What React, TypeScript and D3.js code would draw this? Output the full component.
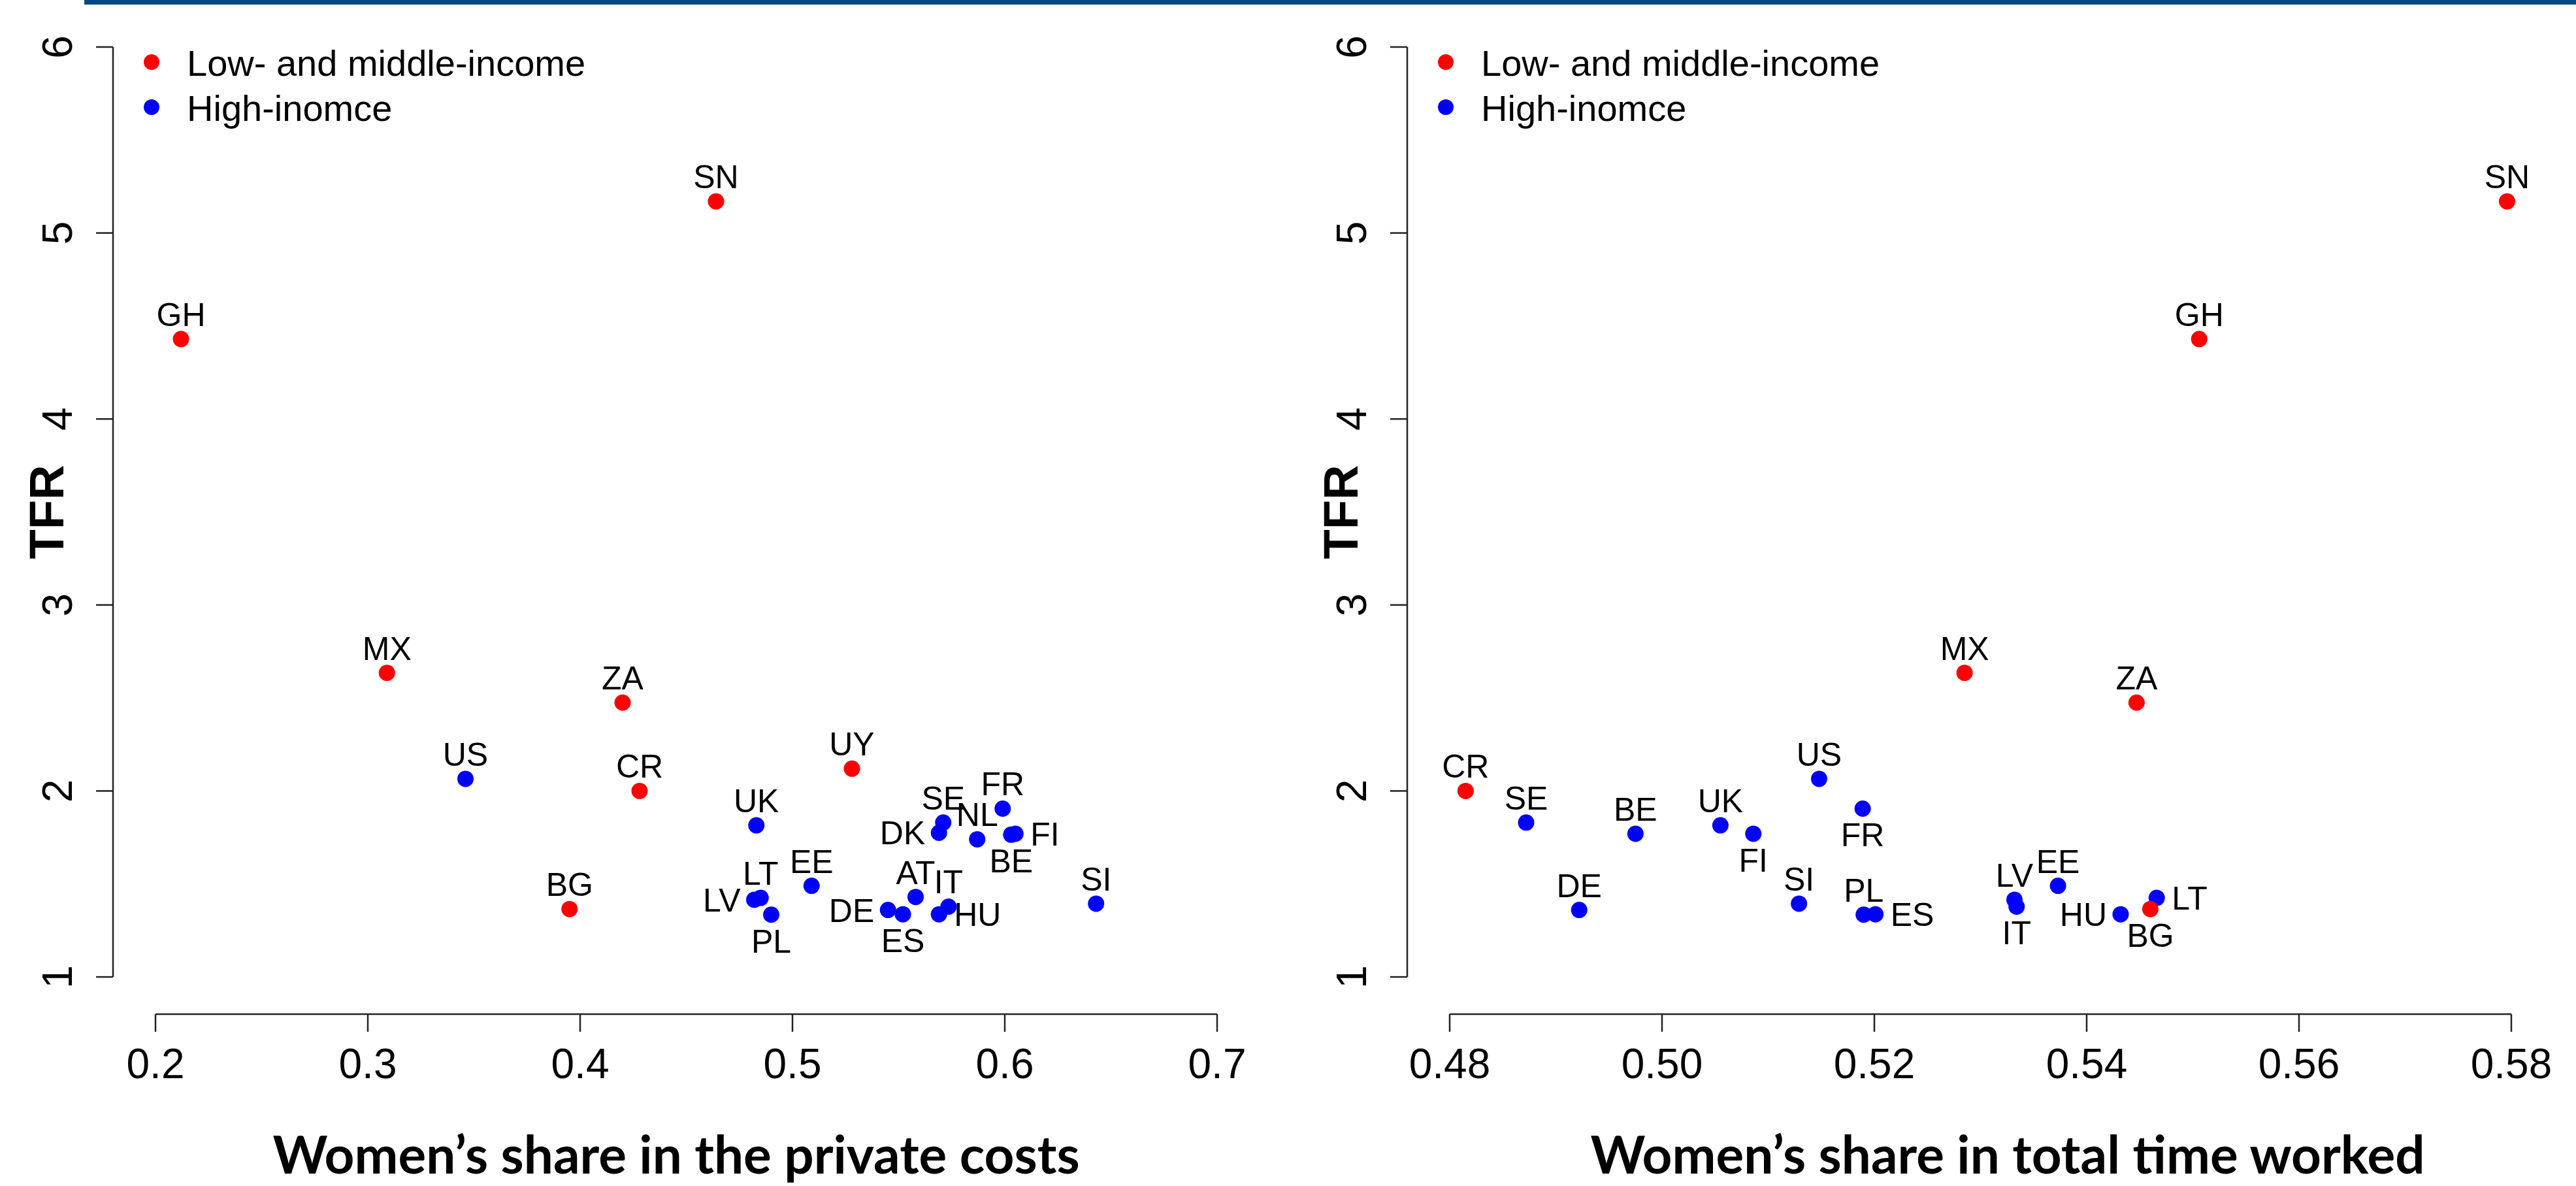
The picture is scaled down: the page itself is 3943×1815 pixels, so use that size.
import React from 'react';
import * as d3 from 'd3';

const W = 3943;
const H = 1815;

// left panel: women's share in the private costs of children
const costCountries = ['GH', 'SN', 'MX', 'ZA', 'US', 'CR', 'BG', 'UY', 'UK', 'SE', 'FR', 'NL', 'DK', 'FI', 'BE', 'EE', 'LT', 'LV', 'PL', 'AT', 'IT', 'DE', 'ES', 'HU', 'SI'];
const costShare = [0.212, 0.464, 0.309, 0.42, 0.346, 0.428, 0.395, 0.528, 0.483, 0.571, 0.599, 0.587, 0.569, 0.605, 0.603, 0.509, 0.485, 0.482, 0.49, 0.558, 0.5735, 0.545, 0.552, 0.569, 0.643];
const costTfr = [4.43, 5.17, 2.635, 2.475, 2.065, 2.0, 1.365, 2.12, 1.815, 1.83, 1.905, 1.74, 1.775, 1.77, 1.765, 1.49, 1.425, 1.415, 1.335, 1.43, 1.378, 1.36, 1.337, 1.337, 1.394];
const costGroup = ['low', 'low', 'low', 'low', 'high', 'low', 'low', 'low', 'high', 'high', 'high', 'high', 'high', 'high', 'high', 'high', 'high', 'high', 'high', 'high', 'high', 'high', 'high', 'high', 'high'];

// right panel: women's share in total time worked
const timeCountries = ['CR', 'SE', 'BE', 'DE', 'UK', 'FI', 'US', 'FR', 'SI', 'PL', 'ES', 'MX', 'ZA', 'GH', 'SN', 'LV', 'IT', 'EE', 'HU', 'BG', 'LT'];
const timeShare = [0.4815, 0.4872, 0.4975, 0.4922, 0.5055, 0.5086, 0.5148, 0.5189, 0.5129, 0.519, 0.5201, 0.5285, 0.5447, 0.5506, 0.5796, 0.5332, 0.5334, 0.5373, 0.5432, 0.546, 0.5466];
const timeTfr = [2.0, 1.83, 1.77, 1.36, 1.815, 1.77, 2.065, 1.905, 1.394, 1.335, 1.337, 2.635, 2.475, 4.43, 5.17, 1.415, 1.378, 1.49, 1.337, 1.365, 1.425];
const timeGroup = ['low', 'high', 'high', 'high', 'high', 'high', 'high', 'high', 'high', 'high', 'high', 'low', 'low', 'low', 'low', 'high', 'high', 'high', 'high', 'low', 'high'];

const yTicks = [1, 2, 3, 4, 5, 6];
const costTicks = [0.2, 0.3, 0.4, 0.5, 0.6, 0.7];
const timeTicks = [0.48, 0.5, 0.52, 0.54, 0.56, 0.58];
const legendLabels = ['Low- and middle-income', 'High-inomce'];
const legendGroups = ['low', 'high'];

// where each country code sits relative to its dot (default: above)
const costLabelSide: Record<string, string> = { DK: 'left', LV: 'left', DE: 'left', FI: 'right', HU: 'right', BE: 'below', PL: 'below', ES: 'below' };
const timeLabelSide: Record<string, string> = { FI: 'below', FR: 'below', IT: 'below', BG: 'below', ES: 'right', LT: 'right', HU: 'left' };

const colors: Record<string, string> = { low: '#ff0000', high: '#0000ff' };
const sans = '"Liberation Sans", Arial, sans-serif';

const yScale = d3.scaleLinear().domain([0.8, 6.2]).range([1552, 15]);

type PanelProps = {
  countries: string[];
  share: number[];
  tfr: number[];
  group: string[];
  ticks: number[];
  fmt: (v: number) => string;
  left: number;
  right: number;
  title: string;
  titleX: number;
  sides: Record<string, string>;
};

const Panel = ({ countries, share, tfr, group, ticks, fmt, left, right, title, titleX, sides }: PanelProps) => {
  const lo = ticks[0];
  const hi = ticks[ticks.length - 1];
  const pad = (hi - lo) * 0.04;
  const x = d3.scaleLinear().domain([lo - pad, hi + pad]).range([left, right]);
  const axisY = yScale(0.8);
  const pts = countries.map((c, i) => ({ c, x: x(share[i]), y: yScale(tfr[i]), g: group[i] }));
  // blue first so the red ones sit on top
  const ordered = [...pts.filter(p => p.g === 'high'), ...pts.filter(p => p.g === 'low')];

  const label = (p: { c: string; x: number; y: number }) => {
    const side = sides[p.c] || 'above';
    if (side === 'left') return <text key={'l' + p.c} x={p.x - 21} y={p.y + 18} textAnchor="end">{p.c}</text>;
    if (side === 'right') return <text key={'l' + p.c} x={p.x + 23} y={p.y + 18} textAnchor="start">{p.c}</text>;
    if (side === 'below') return <text key={'l' + p.c} x={p.x} y={p.y + 58} textAnchor="middle">{p.c}</text>;
    return <text key={'l' + p.c} x={p.x} y={p.y - 20} textAnchor="middle">{p.c}</text>;
  };

  return (
    <g>
      {/* y axis */}
      <line x1={left} x2={left} y1={yScale(6)} y2={yScale(1)} stroke="#222" strokeWidth={2.5} />
      {yTicks.map(t => (
        <g key={'y' + t}>
          <line x1={left - 26} x2={left} y1={yScale(t)} y2={yScale(t)} stroke="#222" strokeWidth={2.5} />
          <text transform={`translate(${left - 63},${yScale(t)}) rotate(-90)`} textAnchor="middle" fontFamily={sans} fontSize={64}>{t}</text>
        </g>
      ))}
      <text transform={`translate(${left - 76},${yScale(3.5)}) rotate(-90)`} textAnchor="middle" fontFamily={sans} fontSize={74} fontWeight="bold">TFR</text>

      {/* x axis */}
      <line x1={x(lo)} x2={x(hi)} y1={axisY} y2={axisY} stroke="#222" strokeWidth={2.5} />
      {ticks.map(t => (
        <g key={'x' + t}>
          <line x1={x(t)} x2={x(t)} y1={axisY} y2={axisY + 27} stroke="#222" strokeWidth={2.5} />
          <text x={x(t)} y={1650} textAnchor="middle" fontFamily={sans} fontSize={64}>{fmt(t)}</text>
        </g>
      ))}
      <text x={titleX} y={1796} textAnchor="middle" fontFamily="Lato, 'Open Sans', sans-serif" fontWeight="bold" fontSize={80}>{title}</text>

      {/* legend */}
      {legendLabels.map((l, i) => (
        <g key={'lg' + i}>
          <circle cx={left + 59} cy={95 + i * 69} r={12} fill={colors[legendGroups[i]]} />
          <text x={left + 113} y={116 + i * 69} fontFamily={sans} fontSize={56}>{l}</text>
        </g>
      ))}

      {/* points and labels */}
      {ordered.map(p => <circle key={'p' + p.c} cx={p.x} cy={p.y} r={12.5} fill={colors[p.g]} />)}
      <g fontFamily={sans} fontSize={50} fill="#000">
        {pts.map(label)}
      </g>
    </g>
  );
};

export default function App() {
  return (
    <svg width={W} height={H} style={{ position: 'absolute', left: 0, top: 0, background: '#fff' }}>
      <rect x={0} y={0} width={W} height={H} fill="#fff" />
      <rect x={129} y={0} width={W - 129} height={7} fill="#03497f" />
      <Panel
        countries={costCountries} share={costShare} tfr={costTfr} group={costGroup}
        ticks={costTicks} fmt={d3.format('.1f')} left={173} right={1928}
        title="Women’s share in the private costs" titleX={1035} sides={costLabelSide}
      />
      <Panel
        countries={timeCountries} share={timeShare} tfr={timeTfr} group={timeGroup}
        ticks={timeTicks} fmt={d3.format('.2f')} left={2154} right={3909}
        title="Women’s share in total time worked" titleX={3073} sides={timeLabelSide}
      />
    </svg>
  );
}
